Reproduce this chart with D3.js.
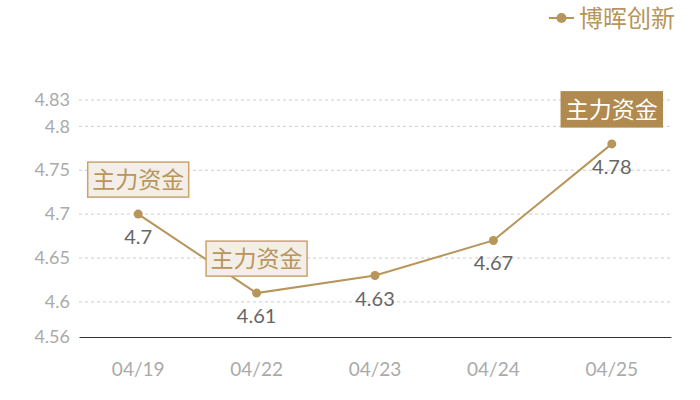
<!DOCTYPE html>
<html><head><meta charset="utf-8">
<script src="https://cdn.jsdelivr.net/npm/d3@7/dist/d3.min.js"></script>
<style>body{margin:0;background:#fff}svg{display:block}</style>
</head><body>
<svg id="c" width="700" height="400"></svg>
<script>
const categories = ["04/19","04/22","04/23","04/24","04/25"];
const values = [4.7, 4.61, 4.63, 4.67, 4.78];
const yTicks = [4.56, 4.6, 4.65, 4.7, 4.75, 4.8, 4.83];
const seriesName = "博晖创新";
const markLabel = "主力资金";
const marks = [
  {cat:"04/19", style:"light"},
  {cat:"04/22", style:"light"},
  {cat:"04/25", style:"dark"}
];

const gold = "#b8955a";
const svg = d3.select("#c");
const numFont = "Lato, 'Open Sans', sans-serif";
const cjkFont = "'Noto Sans CJK SC', sans-serif";

const x = d3.scaleBand().domain(categories).range([79, 671]);
const y = d3.scaleLinear().domain([4.56, 4.83]).range([337, 100]);
const cx = c => x(c) + x.bandwidth()/2;

// grid
svg.append("g").selectAll("line").data(yTicks.filter(t => t !== 4.56)).join("line")
  .attr("x1", 79).attr("x2", 671)
  .attr("y1", d => y(d)).attr("y2", d => y(d))
  .attr("stroke", "#ccc").attr("stroke-dasharray", "3,3").attr("stroke-width", 1);

// y axis labels
const yAxis = d3.axisLeft(y).tickValues(yTicks).tickSize(0).tickPadding(9).tickFormat(d => String(d));
const gy = svg.append("g").attr("transform", "translate(79,0)").call(yAxis);
gy.select(".domain").remove();
gy.selectAll("text").attr("fill", "#aaa").attr("font-size", 18).attr("font-family", numFont);

// x axis
const xAxis = d3.axisBottom(x).tickSize(0).tickPadding(26);
const gx = svg.append("g").attr("transform", "translate(0,337)").call(xAxis);
gx.select(".domain").attr("stroke", "#333").attr("stroke-width", 1.2);
gx.selectAll("text").attr("fill", "#aaa").attr("font-size", 19).attr("font-family", numFont);

// line
const data = categories.map((c,i) => ({c, v: values[i]}));
svg.append("path").datum(data)
  .attr("fill", "none").attr("stroke", gold).attr("stroke-width", 2)
  .attr("d", d3.line().x(d => cx(d.c)).y(d => y(d.v)));

svg.append("g").selectAll("circle").data(data).join("circle")
  .attr("cx", d => cx(d.c)).attr("cy", d => y(d.v)).attr("r", 4.5).attr("fill", gold);

// value labels
svg.append("g").selectAll("text").data(data).join("text")
  .attr("x", d => cx(d.c)).attr("y", d => y(d.v) + 30)
  .attr("text-anchor", "middle").attr("fill", "#666")
  .attr("font-size", 20).attr("font-family", numFont)
  .text(d => d.v);

// markers
const mg = svg.append("g").selectAll("g").data(marks).join("g")
  .attr("transform", d => {
    const v = values[categories.indexOf(d.cat)];
    return `translate(${cx(d.cat)},${y(v) - 17})`;
  });
mg.append("rect")
  .attr("x", -50.5).attr("y", -35).attr("width", 101).attr("height", 35)
  .attr("fill", d => d.style === "dark" ? "#b08a4e" : "#f3eee7")
  .attr("stroke", d => d.style === "dark" ? "#b08a4e" : "#c9a36b")
  .attr("stroke-width", 1.5);
mg.append("text")
  .attr("x", 0).attr("y", -9)
  .attr("text-anchor", "middle")
  .attr("font-size", 23).attr("font-family", cjkFont)
  .attr("fill", d => d.style === "dark" ? "#fff" : "#b8955a")
  .text(markLabel);

// legend
const lg = svg.append("g").attr("transform", "translate(549,18)");
lg.append("line").attr("x1", 0).attr("x2", 25).attr("y1", 0).attr("y2", 0).attr("stroke", gold).attr("stroke-width", 2);
lg.append("circle").attr("cx", 12.5).attr("cy", 0).attr("r", 5).attr("fill", gold);
lg.append("text").attr("x", 30).attr("y", 9).attr("font-size", 24).attr("font-family", cjkFont)
  .attr("fill", gold).text(seriesName);
</script>
</body></html>
